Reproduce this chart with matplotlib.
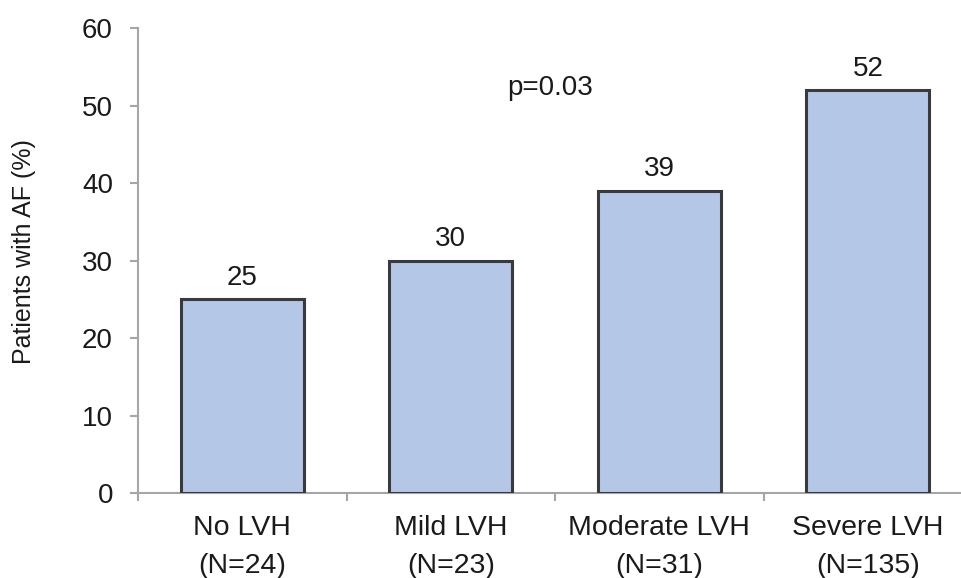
import matplotlib
matplotlib.use('Agg')
import numpy as np
from matplotlib import pyplot as plt

categories = ['No LVH', 'Mild LVH', 'Moderate LVH', 'Severe LVH']
n_labels = ['(N=24)', '(N=23)', '(N=31)', '(N=135)']
af_percent = [25, 30, 39, 52]
y_ticks = [0, 10, 20, 30, 40, 50, 60]
p_text = 'p=0.03'

plt.rcParams['font.family'] = ['Liberation Sans', 'DejaVu Sans']

fig = plt.figure(figsize=(9.61, 5.78), dpi=100)
ax = fig.add_axes([0.1436, 0.147, 0.868, 0.8045])

x = np.arange(len(categories))
bars = ax.bar(x, af_percent, width=0.59, color='#B4C7E7',
              edgecolor='#3a3a3a', linewidth=2.2, zorder=3)

# value labels on top of bars
for xi, v in zip(x, af_percent):
    ax.text(xi, v + 1.1, str(v), ha='center', va='bottom',
            fontsize=20, color='#1a1a1a')

ax.text(1.476, 52.2, p_text, ha='center', va='center',
        fontsize=20, color='#1a1a1a')

ax.set_xlim(-0.5, len(categories) - 0.5)
ax.set_ylim(0, 60)

ax.set_yticks(y_ticks)
ax.tick_params(axis='y', direction='out', length=6, width=1.5,
               color='#A6A6A6', labelsize=20, labelcolor='#1a1a1a', pad=12)

# category labels, ticks at the category boundaries
ax.set_xticks(x)
ax.set_xticklabels([c + '\n' + n for c, n in zip(categories, n_labels)],
                   linespacing=1.6)
ax.tick_params(axis='x', which='major', length=0, labelsize=20.5,
               labelcolor='#1a1a1a', pad=16)
ax.set_xticks(np.arange(-0.5, len(categories)), minor=True)
ax.tick_params(axis='x', which='minor', direction='out', length=6,
               width=1.5, color='#A6A6A6')

for side in ['top', 'right']:
    ax.spines[side].set_visible(False)
for side in ['left', 'bottom']:
    ax.spines[side].set_color('#A6A6A6')
    ax.spines[side].set_linewidth(1.5)

ax.set_ylabel('Patients with AF (%)', fontsize=18, color='#1a1a1a')
ax.yaxis.set_label_coords(-0.122, 0.52)

fig.savefig('out.png', dpi=100)
